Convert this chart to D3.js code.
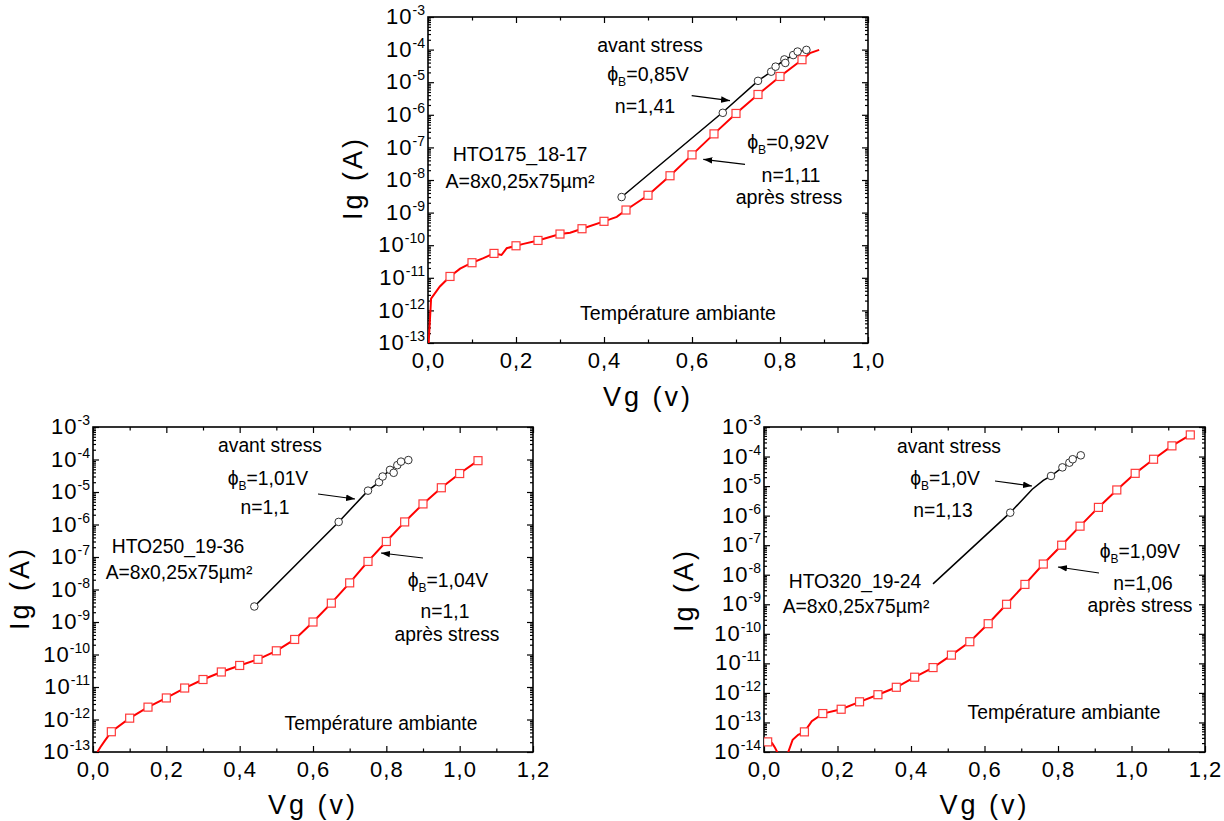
<!DOCTYPE html>
<html><head><meta charset="utf-8">
<script src="https://cdn.jsdelivr.net/npm/d3@7"></script>
<style>
body{margin:0;background:#fff}
svg{display:block}
text{font-family:"Liberation Sans",Arial,Helvetica,sans-serif;fill:#000}
</style>
</head><body>
<svg id="c" width="1224" height="821"></svg>
<script>
// ---------------- DATA ----------------
// tick values
const xTicksTop = [0, 0.2, 0.4, 0.6, 0.8, 1.0];
const xTicksBottom = [0, 0.2, 0.4, 0.6, 0.8, 1.0, 1.2];
const yExpTop = [-13, -3];      // 10^-13 .. 10^-3
const yExpBL = [-13, -3];
const yExpBR = [-14, -3];

// Panel A (HTO175_18-17) - après stress (red line)
const aRedV = [0.0015,0.007,0.027,0.05,0.073,0.10,0.126,0.15,0.167,0.179,0.20,0.217,0.25,0.30,0.323,0.35,0.40,0.429,0.45,0.50,0.55,0.60,0.65,0.70,0.75,0.80,0.85,0.868,0.889];
const aRedI = [1e-13,2.3e-12,5.4e-12,1.1e-11,1.9e-11,2.9e-11,4e-11,5.6e-11,5e-11,8.1e-11,9.6e-11,1.1e-10,1.4e-10,2.2e-10,2.4e-10,3.2e-10,5.4e-10,7.4e-10,1.2e-9,3.4e-9,1.35e-8,5.9e-8,2.6e-7,1.1e-6,4.2e-6,1.5e-5,4.9e-5,7.8e-5,9.8e-5];
const aSqV = [0.05,0.10,0.15,0.20,0.25,0.30,0.35,0.40,0.45,0.50,0.55,0.60,0.65,0.70,0.75,0.80,0.85];
const aSqI = [1.1e-11,2.9e-11,5.6e-11,9.6e-11,1.4e-10,2.2e-10,3.2e-10,5.4e-10,1.2e-9,3.4e-9,1.35e-8,5.9e-8,2.6e-7,1.1e-6,4.2e-6,1.5e-5,4.9e-5];
// Panel A - avant stress (black line)
const aBlkV = [0.44,0.67,0.75,0.78,0.79,0.81,0.83,0.84,0.86];
const aBlkI = [3e-9,1.2e-6,1.1e-5,2.1e-5,3e-5,4.8e-5,6.8e-5,8.5e-5,9.8e-5];
const aCirV = [0.44,0.67,0.75,0.78,0.79,0.81,0.812,0.83,0.84,0.86];
const aCirI = [3e-9,1.15e-6,1.1e-5,2.1e-5,3e-5,5e-5,3.9e-5,6.8e-5,8.7e-5,9.8e-5];

// Panel B (HTO250_19-36)
const bRedV = [0.012,0.02,0.032,0.05,0.10,0.15,0.20,0.25,0.30,0.35,0.40,0.45,0.50,0.55,0.60,0.65,0.70,0.75,0.80,0.85,0.90,0.95,1.00,1.05];
const bRedI = [1e-13,1.4e-13,2.2e-13,4.2e-13,1.1e-12,2.4e-12,4.6e-12,9.3e-12,1.7e-11,2.9e-11,4.6e-11,7.1e-11,1.3e-10,2.9e-10,1e-9,3.8e-9,1.6e-8,7.3e-8,3e-7,1.2e-6,4.3e-6,1.35e-5,3.7e-5,9.2e-5];
const bSqV = [0.05,0.10,0.15,0.20,0.25,0.30,0.35,0.40,0.45,0.50,0.55,0.60,0.65,0.70,0.75,0.80,0.85,0.90,0.95,1.00,1.05];
const bSqI = [4.2e-13,1.1e-12,2.4e-12,4.6e-12,9.3e-12,1.7e-11,2.9e-11,4.6e-11,7.1e-11,1.3e-10,2.9e-10,1e-9,3.8e-9,1.6e-8,7.3e-8,3e-7,1.2e-6,4.3e-6,1.35e-5,3.7e-5,9.2e-5];
const bBlkV = [0.44,0.67,0.75,0.78,0.79,0.81,0.83,0.84,0.86];
const bBlkI = [3e-9,1.2e-6,1.1e-5,2e-5,3e-5,4.8e-5,6.7e-5,8.4e-5,9.6e-5];
const bCirV = [0.44,0.67,0.75,0.78,0.79,0.81,0.82,0.83,0.84,0.86];
const bCirI = [3e-9,1.2e-6,1.1e-5,2e-5,3e-5,4.8e-5,3.9e-5,6.7e-5,8.6e-5,9.6e-5];

// Panel C (HTO320_19-24)
const cRedV = [0.0,0.012,0.022,0.03,0.036,0.042,0.060,0.066,0.078,0.093,0.11,0.13,0.16,0.21,0.26,0.31,0.36,0.41,0.46,0.51,0.56,0.61,0.66,0.71,0.76,0.81,0.86,0.91,0.96,1.01,1.06,1.11,1.16];
const cRedI = [2.3e-14,2.2e-14,2.0e-14,1.4e-14,1e-14,5e-15,5e-15,1e-14,2.6e-14,3.8e-14,4.8e-14,1.1e-13,2e-13,2.8e-13,5e-13,8.7e-13,1.55e-12,3.4e-12,7.2e-12,1.9e-11,5.4e-11,2.2e-10,1e-9,4.7e-9,2.3e-8,1e-7,4.4e-7,1.9e-6,7.4e-6,2.7e-5,8.1e-5,2.3e-4,5.4e-4];
const cSqV = [0.01,0.11,0.16,0.21,0.26,0.31,0.36,0.41,0.46,0.51,0.56,0.61,0.66,0.71,0.76,0.81,0.86,0.91,0.96,1.01,1.06,1.11,1.16];
const cSqI = [2.2e-14,4.8e-14,2e-13,2.8e-13,5e-13,8.7e-13,1.55e-12,3.4e-12,7.2e-12,1.9e-11,5.4e-11,2.2e-10,1e-9,4.7e-9,2.3e-8,1e-7,4.4e-7,1.9e-6,7.4e-6,2.7e-5,8.1e-5,2.3e-4,5.4e-4];
const cBlkV = [0.46,0.67,0.73,0.76,0.781,0.812,0.831,0.84,0.862];
const cBlkI = [4.9e-9,1.26e-6,7.8e-6,1.55e-5,2.2e-5,4.3e-5,6.2e-5,8.1e-5,1.1e-4];
const cCirV = [0.67,0.781,0.812,0.831,0.84,0.862];
const cCirI = [1.26e-6,2.2e-5,4.3e-5,6.2e-5,8.1e-5,1.1e-4];

// ---------------- LAYOUT ----------------
const zip = (a,b) => a.map((v,i)=>[v,b[i]]);
const panels = [
  { id:'A', left:428, right:868, top:17, bottom:343, xMax:1.0, xTicks:xTicksTop, yExp:yExpTop,
    red:zip(aRedV,aRedI), sq:zip(aSqV,aSqI), blk:zip(aBlkV,aBlkI), cir:zip(aCirV,aCirI),
    yTitle:[362,178], xTitleY:406, fs:19.6,
    notes:[
      {t:'avant stress', x:650, y:52},
      {phi:'=0,85V', x:648, y:81},
      {t:'n=1,41', x:645, y:113},
      {t:'HTO175_18-17', x:520, y:161},
      {t:'A=8x0,25x75µm²', x:520, y:188},
      {phi:'=0,92V', x:788, y:149},
      {t:'n=1,11', x:791, y:182},
      {t:'après stress', x:789, y:204},
      {t:'Température ambiante', x:678, y:320}
    ],
    arrows:[[691.7,95.7,730,100.7],[745,164.3,703.3,159.3]] },
  { id:'B', left:93, right:533, top:427, bottom:752, xMax:1.2, xTicks:xTicksBottom, yExp:yExpBL,
    red:zip(bRedV,bRedI), sq:zip(bSqV,bSqI), blk:zip(bBlkV,bBlkI), cir:zip(bCirV,bCirI),
    yTitle:[29,588], xTitleY:814, fs:19.3,
    notes:[
      {t:'avant stress', x:270, y:452},
      {phi:'=1,01V', x:268, y:485},
      {t:'n=1,1', x:265, y:514},
      {t:'HTO250_19-36', x:178, y:553},
      {t:'A=8x0,25x75µm²', x:179, y:579},
      {phi:'=1,04V', x:448, y:587},
      {t:'n=1,1', x:445, y:618},
      {t:'après stress', x:447, y:641},
      {t:'Température ambiante', x:381, y:730}
    ],
    arrows:[[318,494,355,499],[423,558,381,553]] },
  { id:'C', left:764, right:1205, top:427, bottom:752, xMax:1.2, xTicks:xTicksBottom, yExp:yExpBR,
    red:zip(cRedV,cRedI), sq:zip(cSqV,cSqI), blk:zip(cBlkV,cBlkI), cir:zip(cCirV,cCirI),
    yTitle:[693,590], xTitleY:814, fs:19.3,
    notes:[
      {t:'avant stress', x:949, y:453},
      {phi:'=1,0V', x:945, y:485},
      {t:'n=1,13', x:943, y:517},
      {t:'HTO320_19-24', x:855, y:588},
      {t:'A=8x0,25x75µm²', x:856, y:613},
      {phi:'=1,09V', x:1140, y:558},
      {t:'n=1,06', x:1143, y:590},
      {t:'après stress', x:1140, y:612},
      {t:'Température ambiante', x:1064, y:719}
    ],
    arrows:[[995,481,1032,486],[1099,573,1058,567]] }
];

// ---------------- DRAW ----------------
const svg = d3.select('#c');
const defs = svg.append('defs');
defs.append('marker').attr('id','ah').attr('markerUnits','userSpaceOnUse')
  .attr('markerWidth',10).attr('markerHeight',8).attr('refX',9).attr('refY',4).attr('orient','auto')
  .append('path').attr('d','M0,0.8 L9,4 L0,7.2 Z').attr('fill','#000');

const fmtX = v => d3.format('.1f')(v).replace('.', ',');
const FONT = '"Liberation Sans",Arial,sans-serif';

panels.forEach(p => {
  const x = d3.scaleLinear().domain([0, p.xMax]).range([p.left, p.right]);
  const y = d3.scaleLog().domain([Math.pow(10,p.yExp[0]), Math.pow(10,p.yExp[1])]).range([p.bottom, p.top]);
  defs.append('clipPath').attr('id','clip'+p.id).append('rect')
    .attr('x',p.left).attr('y',p.top).attr('width',p.right-p.left).attr('height',p.bottom-p.top);
  const g = svg.append('g');

  const majorsY = d3.range(p.yExp[0], p.yExp[1]+1).map(e=>Math.pow(10,e));
  const minorsY = [];
  for (let e=p.yExp[0]; e<p.yExp[1]; e++) for (let k=2;k<=9;k++) minorsY.push(k*Math.pow(10,e));
  const minorsX = d3.range(1, Math.round(p.xMax*10), 2).map(i=>i/10);

  function styleAxis(sel){ sel.select('.domain').remove(); sel.selectAll('line').attr('stroke','#000').attr('stroke-width',1.2); }

  // x axis bottom (major with labels)
  const xb = g.append('g').attr('transform',`translate(0,${p.bottom})`)
    .call(d3.axisBottom(x).tickValues(p.xTicks).tickFormat(fmtX).tickSizeInner(-6).tickSizeOuter(0).tickPadding(9));
  styleAxis(xb);
  xb.selectAll('text').attr('font-size',22).attr('font-family',FONT).attr('fill','#000').attr('letter-spacing',1);
  const xbm = g.append('g').attr('transform',`translate(0,${p.bottom})`)
    .call(d3.axisBottom(x).tickValues(minorsX).tickFormat('').tickSizeInner(-3.5).tickSizeOuter(0));
  styleAxis(xbm);
  // x axis top
  const xt = g.append('g').attr('transform',`translate(0,${p.top})`)
    .call(d3.axisTop(x).tickValues(p.xTicks).tickFormat('').tickSizeInner(-6).tickSizeOuter(0));
  styleAxis(xt);
  const xtm = g.append('g').attr('transform',`translate(0,${p.top})`)
    .call(d3.axisTop(x).tickValues(minorsX).tickFormat('').tickSizeInner(-3.5).tickSizeOuter(0));
  styleAxis(xtm);

  // y axis left
  const yl = g.append('g').attr('transform',`translate(${p.left},0)`)
    .call(d3.axisLeft(y).tickValues(majorsY).tickFormat('').tickSizeInner(-6).tickSizeOuter(0).tickPadding(3));
  styleAxis(yl);
  yl.selectAll('.tick text').each(function(d){
    const t = d3.select(this).attr('font-size',22).attr('font-family',FONT)
      .attr('fill','#000').attr('text-anchor','end').attr('dy','0.3em');
    t.text(null);
    t.append('tspan').attr('letter-spacing',1).text('10');
    t.append('tspan').attr('font-size',14).attr('dy',-9).text(String(Math.round(Math.log10(d))));
  });
  const ylm = g.append('g').attr('transform',`translate(${p.left},0)`)
    .call(d3.axisLeft(y).tickValues(minorsY).tickFormat('').tickSizeInner(-3).tickSizeOuter(0));
  styleAxis(ylm);
  // y axis right
  const yr = g.append('g').attr('transform',`translate(${p.right},0)`)
    .call(d3.axisRight(y).tickValues(majorsY).tickFormat('').tickSizeInner(-6).tickSizeOuter(0));
  styleAxis(yr);
  const yrm = g.append('g').attr('transform',`translate(${p.right},0)`)
    .call(d3.axisRight(y).tickValues(minorsY).tickFormat('').tickSizeInner(-3).tickSizeOuter(0));
  styleAxis(yrm);

  // frame
  g.append('rect').attr('x',p.left).attr('y',p.top).attr('width',p.right-p.left).attr('height',p.bottom-p.top)
    .attr('fill','none').attr('stroke','#000').attr('stroke-width',1.6);

  // series
  const line = d3.line().x(d=>x(d[0])).y(d=>y(d[1]));
  const dg = g.append('g').attr('clip-path',`url(#clip${p.id})`);
  dg.append('path').datum(p.blk).attr('d',line).attr('fill','none').attr('stroke','#000').attr('stroke-width',1.5);
  dg.append('path').datum(p.red).attr('d',line).attr('fill','none').attr('stroke','#ff0000').attr('stroke-width',2);
  dg.selectAll('rect.sq').data(p.sq).enter().append('rect').attr('class','sq')
    .attr('x',d=>x(d[0])-4).attr('y',d=>y(d[1])-4).attr('width',8).attr('height',8)
    .attr('fill','#fff').attr('stroke','#ff3a3a').attr('stroke-width',1.2);
  dg.selectAll('circle.ci').data(p.cir).enter().append('circle').attr('class','ci')
    .attr('cx',d=>x(d[0])).attr('cy',d=>y(d[1])).attr('r',3.8)
    .attr('fill','#fff').attr('stroke','#333').attr('stroke-width',1);

  // titles
  svg.append('text').attr('transform',`translate(${p.yTitle[0]},${p.yTitle[1]}) rotate(-90)`)
    .attr('text-anchor','middle').attr('font-size',27).attr('letter-spacing',3).text('Ig (A)');
  svg.append('text').attr('x',(p.left+p.right)/2).attr('y',p.xTitleY)
    .attr('text-anchor','middle').attr('font-size',27).attr('letter-spacing',3).text('Vg (v)');

  // annotations
  p.notes.forEach(n => {
    const t = svg.append('text').attr('x',n.x).attr('y',n.y).attr('text-anchor','middle').attr('font-size',p.fs);
    if (n.phi) {
      t.append('tspan').text('ϕ');
      t.append('tspan').attr('font-size',p.fs*0.62).attr('dy',5).text('B');
      t.append('tspan').attr('dy',-5).text(n.phi);
    } else t.text(n.t);
  });
  p.arrows.forEach(a => {
    svg.append('line').attr('x1',a[0]).attr('y1',a[1]).attr('x2',a[2]).attr('y2',a[3])
      .attr('stroke','#000').attr('stroke-width',1.2).attr('marker-end','url(#ah)');
  });
});
</script>
</body></html>
